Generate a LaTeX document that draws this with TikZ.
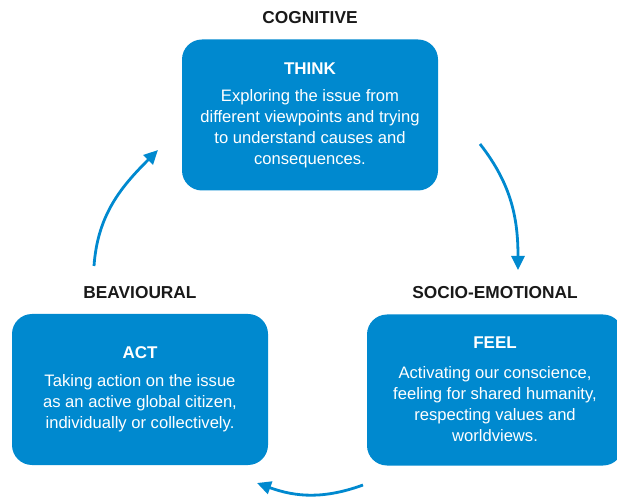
\documentclass[tikz,border=0pt]{standalone}
\usepackage{fontspec}
\setmainfont{Liberation Sans}
\usetikzlibrary{arrows.meta}
\definecolor{unblue}{HTML}{0089CF}

\begin{document}
\begin{tikzpicture}[x=1pt,y=1pt,
  box/.style={rounded corners=20pt,fill=unblue,minimum width=256pt,minimum height=151pt,inner sep=0pt},
  head/.style={font=\fontsize{17.3}{20}\selectfont\bfseries,text=black!90},
  title/.style={font=\fontsize{17}{20}\selectfont\bfseries,text=white},
  body/.style={font=\fontsize{16.6}{21}\selectfont,text=white,align=center},
  cyc/.style={unblue,line width=2.8pt,-{Triangle[width=13pt,length=14pt]}}]
\useasboundingbox (0,0) rectangle (617,500);
\begin{scope}
\clip (0,0) rectangle (617,500);
\node [box] (think) at (310,385) {};
\node [box] (feel) at (495,110) {};
\node [box] (act) at (140,110.5) {};
\end{scope}
\node [head] (cog) at (310,482) {COGNITIVE};
\node [head] (soc) at (495,207) {SOCIO-EMOTIONAL};
\node [head] (beh) at (140,207) {BEAVIOURAL};
\node [title] (thinkt) at (310,431) {THINK};
\node [title] (feelt) at (495,157) {FEEL};
\node [title] (actt) at (140,147) {ACT};
\node [body] (thinkb) at (310,371.5) {Exploring the issue from\\different viewpoints and trying\\to understand causes and\\consequences.};
\node [body] (feelb) at (495,96) {Activating our conscience,\\feeling for shared humanity,\\respecting values and\\worldviews.};
\node [body] (actb) at (140,96.5) {Taking action on the issue\\as an active global citizen,\\individually or collectively.};
\coordinate (c1) at (480,356);
\coordinate (c2) at (518,230);
\coordinate (c3) at (363,15);
\coordinate (c4) at (257,17);
\coordinate (c5) at (94,234);
\coordinate (c6) at (158,350);
\draw [cyc] (c1) to[out=-52,in=90] (c2);
\draw [cyc] (c3) to[out=200,in=-20] (c4);
\draw [cyc] (c5) to[out=86,in=-135] (c6);
\end{tikzpicture}
\end{document}
